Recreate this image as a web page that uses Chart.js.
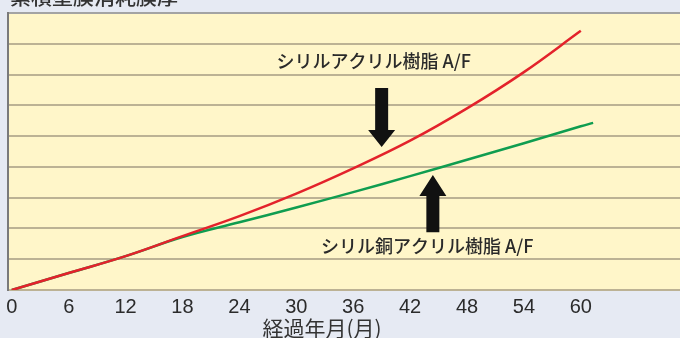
<!DOCTYPE html>
<html lang="ja">
<head>
<meta charset="utf-8">
<style>
  html, body { margin: 0; padding: 0; background: #e6eaf3; }
  #wrap { width: 680px; height: 338px; }
</style>
<script src="https://cdn.jsdelivr.net/npm/chart.js@4"></script>
</head>
<body>
<div id="wrap"><canvas id="lineChart" width="680" height="338"></canvas></div>
<script>
// elapsed months (x) and cumulative film consumption (y)
const months = [0, 6, 12, 18, 24, 30, 36, 42, 48, 54, 60];
const silylAcrylic = [0, 0.55, 1.1, 1.75, 2.4, 3.13, 3.95, 4.85, 5.9, 7.08, 8.42];
const copperMonths = [0, 6, 12, 18, 24, 30, 36, 42, 48, 54, 60, 61.3];
const silylCopperAcrylic = [0, 0.55, 1.1, 1.72, 2.2, 2.68, 3.18, 3.7, 4.23, 4.77, 5.32, 5.43];
const tickMonths = [0, 6, 12, 18, 24, 30, 36, 42, 48, 54, 60];

const seriesNames = ['シリルアクリル樹脂 A/F', 'シリル銅アクリル樹脂 A/F'];
const yTitle = '累積塗膜消耗膜厚';
const xTitle = '経過年月(月)';

const toPoints = (xs, ys) => xs.map((x, i) => ({ x, y: ys[i] }));

function drawArrow(ctx, x, yFrom, yTo, headLen) {
  const dir = Math.sign(yTo - yFrom);
  const shaft = 6.5, head = 13.5;
  const yb = yTo - dir * headLen;
  ctx.beginPath();
  ctx.moveTo(x - shaft, yFrom);
  ctx.lineTo(x + shaft, yFrom);
  ctx.lineTo(x + shaft, yb);
  ctx.lineTo(x + head, yb);
  ctx.lineTo(x, yTo);
  ctx.lineTo(x - head, yb);
  ctx.lineTo(x - shaft, yb);
  ctx.closePath();
  ctx.fill();
}

const decorPlugin = {
  id: 'decor',
  beforeDraw(chart) {
    const { ctx, chartArea: a } = chart;
    ctx.save();
    ctx.fillStyle = '#e6eaf3';
    ctx.fillRect(0, 0, chart.width, chart.height);
    ctx.fillStyle = '#fff6c9';
    ctx.fillRect(a.left, a.top, a.right - a.left, a.bottom - a.top);
    ctx.restore();
  },
  afterDatasetsDraw(chart) {
    const { ctx } = chart;
    const xs = chart.scales.x, ys = chart.scales.y;
    ctx.save();
    ctx.fillStyle = '#111';
    // arrows pointing at each curve
    drawArrow(ctx, xs.getPixelForValue(39), ys.getPixelForValue(6.56), ys.getPixelForValue(4.65), 17);
    drawArrow(ctx, xs.getPixelForValue(44.4), ys.getPixelForValue(1.88), ys.getPixelForValue(3.74), 21);

    ctx.fillStyle = '#2a2a2a';
    ctx.font = '500 18px "Noto Sans CJK JP"';
    ctx.textBaseline = 'middle';
    ctx.textAlign = 'left';
    ctx.fillText(seriesNames[0], xs.getPixelForValue(27.9), ys.getPixelForValue(7.45));
    ctx.fillText(seriesNames[1], xs.getPixelForValue(32.6), ys.getPixelForValue(1.42));
    ctx.restore();
  },
  afterDraw(chart) {
    const { ctx } = chart;
    ctx.save();
    ctx.fillStyle = '#333';
    ctx.font = '500 21px "Noto Sans CJK JP"';
    ctx.textBaseline = 'alphabetic';
    ctx.textAlign = 'left';
    ctx.fillText(yTitle, 10, 4);

    ctx.font = '21px "Noto Sans CJK JP"';
    ctx.textAlign = 'center';
    ctx.textBaseline = 'middle';
    ctx.fillText(xTitle, 322, 328);
    ctx.restore();
  }
};

new Chart(document.getElementById('lineChart'), {
  type: 'line',
  data: {
    datasets: [
      {
        label: seriesNames[0],
        data: toPoints(months, silylAcrylic),
        borderColor: '#e3222b',
        borderWidth: 2.5,
        pointRadius: 0,
        tension: 0.4,
        fill: false
      },
      {
        label: seriesNames[1],
        data: toPoints(copperMonths, silylCopperAcrylic),
        borderColor: '#0f9d50',
        borderWidth: 2.5,
        pointRadius: 0,
        tension: 0.4,
        fill: false
      }
    ]
  },
  options: {
    responsive: false,
    animation: false,
    devicePixelRatio: 1,
    layout: { padding: { left: 8, top: 13, right: 0, bottom: 0 } },
    plugins: {
      legend: { display: false },
      tooltip: { enabled: false }
    },
    scales: {
      x: {
        type: 'linear',
        min: -0.4,
        max: 70.46,
        afterBuildTicks: s => { s.ticks = tickMonths.map(v => ({ value: v })); },
        afterFit: s => { s.height = 48; },
        ticks: {
          autoSkip: false,
          maxRotation: 0,
          padding: 5,
          color: '#2b2b2b',
          font: { family: '"Liberation Sans", Arial, sans-serif', size: 20 }
        },
        grid: { display: false, drawTicks: false },
        border: { display: false }
      },
      y: {
        min: 0,
        max: 9,
        ticks: { display: false, stepSize: 1 },
        grid: {
          drawTicks: false,
          lineWidth: 2,
          color: c => (c.tick && c.tick.value === 9 ? '#a3a3a3' : '#bcb294')
        },
        border: { display: true, color: '#7a7a7a', width: 2 }
      }
    }
  },
  plugins: [decorPlugin]
});
</script>
</body>
</html>
